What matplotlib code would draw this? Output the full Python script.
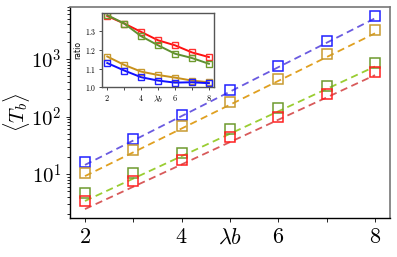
import matplotlib
matplotlib.use("Agg")
import matplotlib.pyplot as plt
import numpy as np

plt.rcParams['mathtext.fontset'] = 'cm'
plt.rcParams['font.family'] = 'serif'
plt.rcParams['font.serif'] = ['DejaVu Serif']

lam_b = [2, 3, 4, 5, 6, 7, 8]
tb_blue = [16, 41, 107, 288, 760, 2090, 5600]
tb_orange = [10.3, 26, 68, 176, 455, 1220, 3170]
tb_green = [4.6, 10.3, 23.5, 60, 139, 345, 865]
tb_red = [3.4, 7.7, 17.5, 44, 99, 243, 600]

fit_x = [2, 8]
fit_blue = [14.4, 5100]
fit_orange = [9.2, 2800]
fit_green = [3.4, 740]
fit_red = [2.46, 525]

ratio_red = [1.382, 1.342, 1.297, 1.252, 1.225, 1.187, 1.162]
ratio_green = [1.387, 1.342, 1.274, 1.225, 1.180, 1.157, 1.126]
ratio_orange = [1.165, 1.120, 1.084, 1.066, 1.052, 1.036, 1.027]
ratio_blue = [1.130, 1.090, 1.054, 1.036, 1.025, 1.027, 1.022]

xtick_labels = ['$2$', '', '$4$', r'$\lambda b$', '$6$', '', '$8$']

fig = plt.figure(figsize=(3.97, 2.57), dpi=100)
ax = fig.add_axes([70/397, 1-218/257, 320/397, 211/257])

mk_cols = ['#2020ff', '#c89a30', '#6e9a2e', '#ff2020']
fit_cols = ['#6a5ae0', '#e0a020', '#9acd32', '#d85a5a']
tbs = [tb_blue, tb_orange, tb_green, tb_red]
fits = [fit_blue, fit_orange, fit_green, fit_red]
for tb, ft, mc, fc in zip(tbs, fits, mk_cols, fit_cols):
    ax.plot(fit_x, ft, '--', color=fc, lw=1.3, dashes=(4, 2.5))
    ax.plot(lam_b, tb, 's', mfc='none', mec=mc, ms=6.8, mew=1.1)

ax.set_yscale('log')
ax.set_xlim(1.69, 8.31)
ax.set_ylim(1.72, 8020)
ax.set_xticks(lam_b)
ax.set_xticklabels(xtick_labels, fontsize=16)
ax.set_yticks([10, 100, 1000])
ax.set_yticklabels(['$10^1$', '$10^2$', '$10^3$'], fontsize=15)
ax.set_ylabel(r'$\langle T_b \rangle$', fontsize=15)
ax.yaxis.set_label_coords(-0.12, 0.5)
ax.tick_params(axis='both', which='both', direction='out', length=3, width=0.6, pad=3)
ax.tick_params(axis='y', which='minor', length=2)
for s in ['left', 'bottom']:
    ax.spines[s].set_color('black')
    ax.spines[s].set_linewidth(1.0)
for s in ['top', 'right']:
    ax.spines[s].set_color('#777777')
    ax.spines[s].set_linewidth(1.2)

# inset
ins = fig.add_axes([101.7/397, 1-87.3/257, (214-101.7)/397, (87.3-12.7)/257])
ratios = [ratio_red, ratio_green, ratio_orange, ratio_blue]
in_cols = ['#ff1010', '#5f9030', '#c8901a', '#1010ff']
in_mk = ['#ff3030', '#6e9a2e', '#c89a30', '#2020ff']
for r, c, m in zip(ratios, in_cols, in_mk):
    ins.plot(lam_b, r, '-', color=c, lw=1.4)
    ins.plot(lam_b, r, 's', mfc='none', mec=m, ms=4, mew=1.0)
ins.set_xlim(1.67, 8.3)
ins.set_ylim(1.0, 1.40)
ins.set_xticks(lam_b)
ins.set_xticklabels(xtick_labels, fontsize=6)
ins.set_yticks([1.0, 1.1, 1.2, 1.3])
ins.set_yticklabels(['$1.0$', '$1.1$', '$1.2$', '$1.3$'], fontsize=5.5)
ins.set_ylabel('ratio', fontsize=5.5, family='DejaVu Sans', labelpad=2)
ins.tick_params(axis='both', which='both', direction='out', length=2, width=0.5, pad=2)
for s in ins.spines.values():
    s.set_color('#555555')
    s.set_linewidth(1.0)

fig.savefig('out.png', dpi=100)
